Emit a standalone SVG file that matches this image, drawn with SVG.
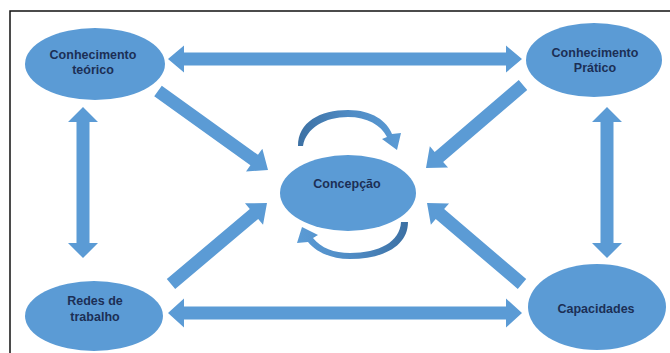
<svg xmlns="http://www.w3.org/2000/svg" width="670" height="353" viewBox="0 0 670 353">
  <style>
    .node { fill: #5b9bd5; }
    .arrow { fill: #5b9bd5; }
    .label { font-family: "Liberation Sans", Arial, sans-serif; font-weight: bold; font-size: 12.5px; fill: #1c2f55; text-anchor: middle; }
  </style>
  <defs>
    <linearGradient id="arcTop" x1="0" y1="0" x2="1" y2="0">
      <stop offset="0" stop-color="#3c70a3"/>
      <stop offset="0.5" stop-color="#4f8bc4"/>
      <stop offset="1" stop-color="#5b9bd5"/>
    </linearGradient>
    <linearGradient id="arcBottom" x1="1" y1="0" x2="0" y2="0">
      <stop offset="0" stop-color="#3c70a3"/>
      <stop offset="0.5" stop-color="#4f8bc4"/>
      <stop offset="1" stop-color="#5b9bd5"/>
    </linearGradient>
  </defs>
  <rect x="0" y="0" width="670" height="353" fill="#ffffff"/>
  <!-- frame -->
  <path d="M10,353 L10,11 L670,11" fill="none" stroke="#111" stroke-width="1.5"/>

  <g id="connectors">
    <!-- top double arrow -->
    <polygon class="arrow" points="168,59 184,45.5 184,52.5 506,52.5 506,45.5 522,59 506,72.5 506,65.5 184,65.5 184,72.5"/>
    <!-- bottom double arrow -->
    <polygon class="arrow" points="168,313 184,298.5 184,306.5 506,306.5 506,298.5 522,313 506,327.5 506,319.5 184,319.5 184,327.5"/>
    <!-- left vertical double arrow -->
    <polygon class="arrow" points="83,107 98,122 89.5,122 89.5,243 98,243 83,258 68,243 76.5,243 76.5,122 68,122"/>
    <!-- right vertical double arrow -->
    <polygon class="arrow" points="607,107 622,122 613.5,122 613.5,243 622,243 607,258 592,243 600.5,243 600.5,122 592,122"/>
    <!-- diagonal arrows into the centre -->
    <polygon class="arrow" points="154.21,96.28 250.40,165.36 246.02,171.45 268,170 262.36,148.71 257.98,154.80 161.79,85.72"/>
    <polygon class="arrow" points="518.77,80.06 434.69,152.01 429.82,146.31 426,168 448.02,167.59 443.15,161.89 527.23,89.94"/>
    <polygon class="arrow" points="175.19,288.97 258.20,218.93 263.04,224.66 267,203 244.98,203.26 249.82,208.99 166.81,279.03"/>
    <polygon class="arrow" points="526.22,279.05 444.16,209.08 449.02,203.38 427,203 430.86,224.68 435.72,218.98 517.78,288.95"/>
    <!-- circular arrows around the centre -->
    <path fill="url(#arcTop)" d="M298,146 C298,122 320,110 348,110 C372,110 387,121 392,134 L401,133 L397,150 L382,139 L387,137 C381,125 367,117 348,117 C325,117 306,128 303,146 Z"/>
    <path fill="url(#arcBottom)" d="M408,222 C408,245 385,259 350,259 C331,259 316,252 308,242 L297,243 L302,227 L318,235 L313,238 C321,248 334,253 350,253 C379,253 400,242 401,222 Z"/>
  </g>

  <g id="node-conhecimento-teorico">
    <ellipse class="node" cx="95" cy="64" rx="70" ry="36"/>
    <text class="label" x="93" y="59">Conhecimento</text>
    <text class="label" x="93" y="74">teórico</text>
  </g>
  <g id="node-conhecimento-pratico">
    <ellipse class="node" cx="594" cy="60" rx="68" ry="37"/>
    <text class="label" x="595" y="57">Conhecimento</text>
    <text class="label" x="595" y="72">Prático</text>
  </g>
  <g id="node-redes-de-trabalho">
    <ellipse class="node" cx="94" cy="316" rx="69" ry="35"/>
    <text class="label" x="95" y="305">Redes de</text>
    <text class="label" x="95" y="321">trabalho</text>
  </g>
  <g id="node-capacidades">
    <ellipse class="node" cx="597" cy="307" rx="69" ry="43"/>
    <text class="label" x="596" y="313">Capacidades</text>
  </g>
  <g id="node-concepcao">
    <ellipse class="node" cx="348" cy="193" rx="68" ry="38"/>
    <text class="label" x="347" y="188">Concepção</text>
  </g>
</svg>
